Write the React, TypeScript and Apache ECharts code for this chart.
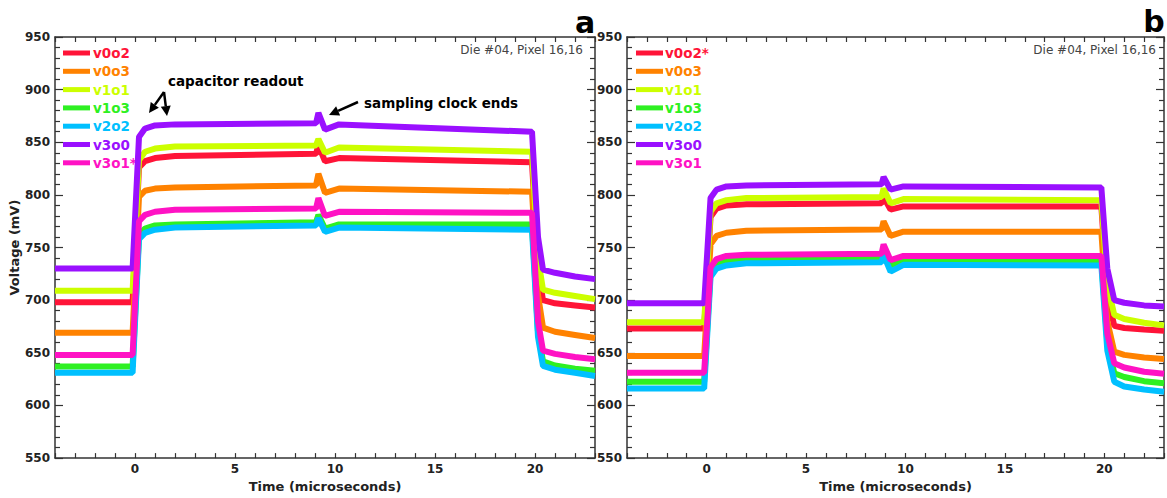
import React, { useEffect, useRef } from "react";
import * as echarts from "echarts";

// ---- Data ----
// Panel a: time samples (microseconds)
const timeA = [-4, -0.12, 0.2, 0.5, 1, 2, 9.05, 9.17, 9.5, 10.2, 19.85, 20.15, 20.4, 21, 22, 23];
const namesA = ["v0o2", "v0o3", "v1o1", "v1o3", "v2o2", "v3o0", "v3o1*"];
const a_v0o2 = [698, 698, 826, 832, 835, 837, 839, 847, 832, 835, 831, 730, 700, 697, 695, 693];
const a_v0o3 = [669, 669, 798, 804, 806, 807, 809, 820, 802, 806, 803, 705, 674, 670, 667, 664];
const a_v1o1 = [709, 709, 833, 841, 844, 846, 847, 853, 840, 845, 841, 740, 710, 707, 704, 701];
const a_v1o3 = [637, 637, 762, 768, 771, 772, 774, 781, 768, 772, 772, 670, 642, 638, 635, 633];
const a_v2o2 = [631, 631, 758, 764, 767, 769, 771, 778, 765, 769, 767, 665, 637.5, 634, 631, 628];
const a_v3o0 = [730, 730, 855, 863, 866, 867, 868, 878, 862, 867, 860, 760, 729, 726, 722.5, 720];
const a_v3o1 = [648, 648, 775, 781, 784, 786, 787, 797, 780, 784, 783, 680, 652, 649, 646, 644];

// Panel b
const timeB = [-4, -0.12, 0.2, 0.5, 1, 2, 8.8, 8.9, 9.25, 9.9, 19.85, 20.15, 20.5, 21, 22, 23];
const namesB = ["v0o2*", "v0o3", "v1o1", "v1o3", "v2o2", "v3o0", "v3o1"];
const b_v0o2 = [673, 673, 779, 787, 790, 791, 792, 798, 786, 789, 789, 705, 675.5, 673.5, 672, 671];
const b_v0o3 = [647, 647, 753, 761, 764, 766, 767, 775, 761, 765, 765, 680, 651, 648, 645.5, 644];
const b_v1o1 = [679, 679, 784, 792, 795, 797, 798, 806, 792, 796, 795, 715, 686, 682, 678.5, 676];
const b_v1o3 = [622.5, 622.5, 727, 735, 738, 739, 740, 747, 733, 738, 738, 660, 630.5, 627, 623, 621];
const b_v2o2 = [616, 616, 722, 730, 733, 735, 736, 743, 727, 733.5, 733, 652, 622.5, 618, 615, 613];
const b_v3o0 = [697, 697, 797, 805, 808, 809, 810, 817, 805, 808, 807, 730, 700, 697.5, 695, 694];
const b_v3o1 = [631, 631, 731, 739, 742, 743, 744, 753, 738, 742, 742, 668, 640, 636, 632, 630];

const colors = ["#ff1438", "#ff8200", "#ccff00", "#2ef022", "#00c0ff", "#9a10ff", "#ff12c4"];

const seriesA = [a_v0o2, a_v0o3, a_v1o1, a_v1o3, a_v2o2, a_v3o0, a_v3o1];
const seriesB = [b_v0o2, b_v0o3, b_v1o1, b_v1o3, b_v2o2, b_v3o0, b_v3o1];

const FONT = "DejaVu Sans";

function arrow(x1: number, y1: number, x2: number, y2: number) {
  const dx = x2 - x1;
  const dy = y2 - y1;
  const len = Math.sqrt(dx * dx + dy * dy);
  const ux = dx / len;
  const uy = dy / len;
  const L = 10;
  const W = 5;
  const bx = x2 - ux * L;
  const by = y2 - uy * L;
  const nx = -uy;
  const ny = ux;
  return [
    {
      type: "line",
      shape: { x1, y1, x2: bx, y2: by },
      style: { stroke: "#000", lineWidth: 2.5 },
      silent: true,
    },
    {
      type: "polygon",
      shape: {
        points: [
          [x2, y2],
          [bx + nx * W, by + ny * W],
          [bx - nx * W, by - ny * W],
        ],
      },
      style: { fill: "#000" },
      silent: true,
    },
  ];
}

function legendGraphics(names: string[], rectX: number, textX: number, y0: number) {
  const out: any[] = [];
  names.forEach((n, i) => {
    const y = y0 + i * 18.3;
    out.push({
      type: "rect",
      shape: { x: rectX, y: y - 2.5, width: 27, height: 5 },
      style: { fill: colors[i] },
      silent: true,
    });
    out.push({
      type: "text",
      x: textX,
      y: y,
      style: {
        text: n,
        fill: colors[i],
        font: `bold 13.5px "${FONT}"`,
        textAlign: "left",
        textVerticalAlign: "middle",
      },
      silent: true,
    });
  });
  return out;
}

function xAxes(gridIndex: number, withName: boolean) {
  const common = {
    type: "value",
    gridIndex,
    min: -4,
    max: 23,
    interval: 1,
    splitLine: { show: false },
    axisLine: { show: true, onZero: false, lineStyle: { color: "#333", width: 1.5 } },
    axisTick: { show: true, inside: true, length: 5, lineStyle: { color: "#333", width: 1.2 } },
  };
  return [
    {
      ...common,
      position: "bottom",
      name: withName ? "Time (microseconds)" : "",
      nameLocation: "middle",
      nameGap: 20,
      nameTextStyle: { fontFamily: FONT, fontWeight: "bold", fontSize: 13, color: "#222" },
      axisLabel: {
        show: true,
        margin: 5,
        fontFamily: FONT,
        fontWeight: "bold",
        fontSize: 12,
        color: "#222",
        formatter: (v: number) => (Math.round(v) % 5 === 0 ? String(Math.round(v)) : ""),
      },
    },
    {
      ...common,
      position: "top",
      axisLabel: { show: false },
    },
  ];
}

function yAxes(gridIndex: number, withName: boolean) {
  const common = {
    type: "value",
    gridIndex,
    min: 550,
    max: 950,
    interval: 50,
    splitLine: { show: false },
    minorSplitLine: { show: false },
    axisLine: { show: true, onZero: false, lineStyle: { color: "#333", width: 1.5 } },
    axisTick: { show: true, inside: true, length: 8, lineStyle: { color: "#333", width: 1.2 } },
    minorTick: { show: true, splitNumber: 5, length: 5, lineStyle: { color: "#333", width: 1.2 } },
  };
  return [
    {
      ...common,
      position: "left",
      name: withName ? "Voltage (mV)" : "",
      nameLocation: "middle",
      nameGap: 33,
      nameTextStyle: { fontFamily: FONT, fontWeight: "bold", fontSize: 13, color: "#222" },
      axisLabel: {
        show: true,
        margin: 5,
        fontFamily: FONT,
        fontWeight: "bold",
        fontSize: 12,
        color: "#222",
      },
    },
    {
      ...common,
      position: "right",
      axisLabel: { show: false },
    },
  ];
}

export default function App() {
  const ref = useRef<HTMLDivElement>(null);

  useEffect(() => {
    if (!ref.current) return;
    const chart = echarts.init(ref.current, undefined, { renderer: "svg" });

    const series: any[] = [];
    seriesA.forEach((vals, i) => {
      series.push({
        type: "line",
        name: namesA[i],
        xAxisIndex: 0,
        yAxisIndex: 0,
        showSymbol: false,
        symbol: "none",
        lineStyle: { color: colors[i], width: 6 },
        itemStyle: { color: colors[i] },
        data: timeA.map((t, j) => [t, vals[j]]),
        z: 2 + i,
      });
    });
    seriesB.forEach((vals, i) => {
      series.push({
        type: "line",
        name: namesB[i],
        xAxisIndex: 2,
        yAxisIndex: 2,
        showSymbol: false,
        symbol: "none",
        lineStyle: { color: colors[i], width: 6 },
        itemStyle: { color: colors[i] },
        data: timeB.map((t, j) => [t, vals[j]]),
        z: 2 + i,
      });
    });

    const graphic: any[] = [
      ...legendGraphics(namesA, 63, 93, 53),
      ...legendGraphics(namesB, 636, 665, 53),
      {
        type: "text",
        x: 583,
        y: 50,
        style: { text: "Die #04, Pixel 16,16", fill: "#444", font: `12px "${FONT}"`, textAlign: "right", textVerticalAlign: "middle" },
        silent: true,
      },
      {
        type: "text",
        x: 1156,
        y: 50,
        style: { text: "Die #04, Pixel 16,16", fill: "#444", font: `12px "${FONT}"`, textAlign: "right", textVerticalAlign: "middle" },
        silent: true,
      },
      {
        type: "text",
        x: 585,
        y: 22,
        style: { text: "a", fill: "#000", font: `bold 30px "${FONT}"`, textAlign: "center", textVerticalAlign: "middle" },
        silent: true,
      },
      {
        type: "text",
        x: 1154,
        y: 21,
        style: { text: "b", fill: "#000", font: `bold 30px "${FONT}"`, textAlign: "center", textVerticalAlign: "middle" },
        silent: true,
      },
      {
        type: "text",
        x: 168,
        y: 81,
        style: { text: "capacitor readout", fill: "#000", font: `bold 13.5px "${FONT}"`, textAlign: "left", textVerticalAlign: "middle" },
        silent: true,
      },
      {
        type: "text",
        x: 364,
        y: 103,
        style: { text: "sampling clock ends", fill: "#000", font: `bold 13.5px "${FONT}"`, textAlign: "left", textVerticalAlign: "middle" },
        silent: true,
      },
      ...arrow(164, 92, 149, 113),
      ...arrow(164, 92, 167, 116),
      ...arrow(358, 102, 329, 115),
    ];

    chart.setOption({
      animation: false,
      backgroundColor: "#fff",
      grid: [
        { left: 55, top: 37, width: 540, height: 422, containLabel: false },
        { left: 627, top: 37, width: 539, height: 421, containLabel: false },
      ],
      xAxis: [...xAxes(0, true), ...xAxes(1, true)],
      yAxis: [...yAxes(0, true), ...yAxes(1, false)],
      series,
      graphic,
    });

    return () => {
      chart.dispose();
    };
  }, []);

  return (
    <div
      ref={ref}
      style={{ position: "fixed", left: 0, top: 0, width: 1167, height: 498, background: "#fff" }}
    />
  );
}
